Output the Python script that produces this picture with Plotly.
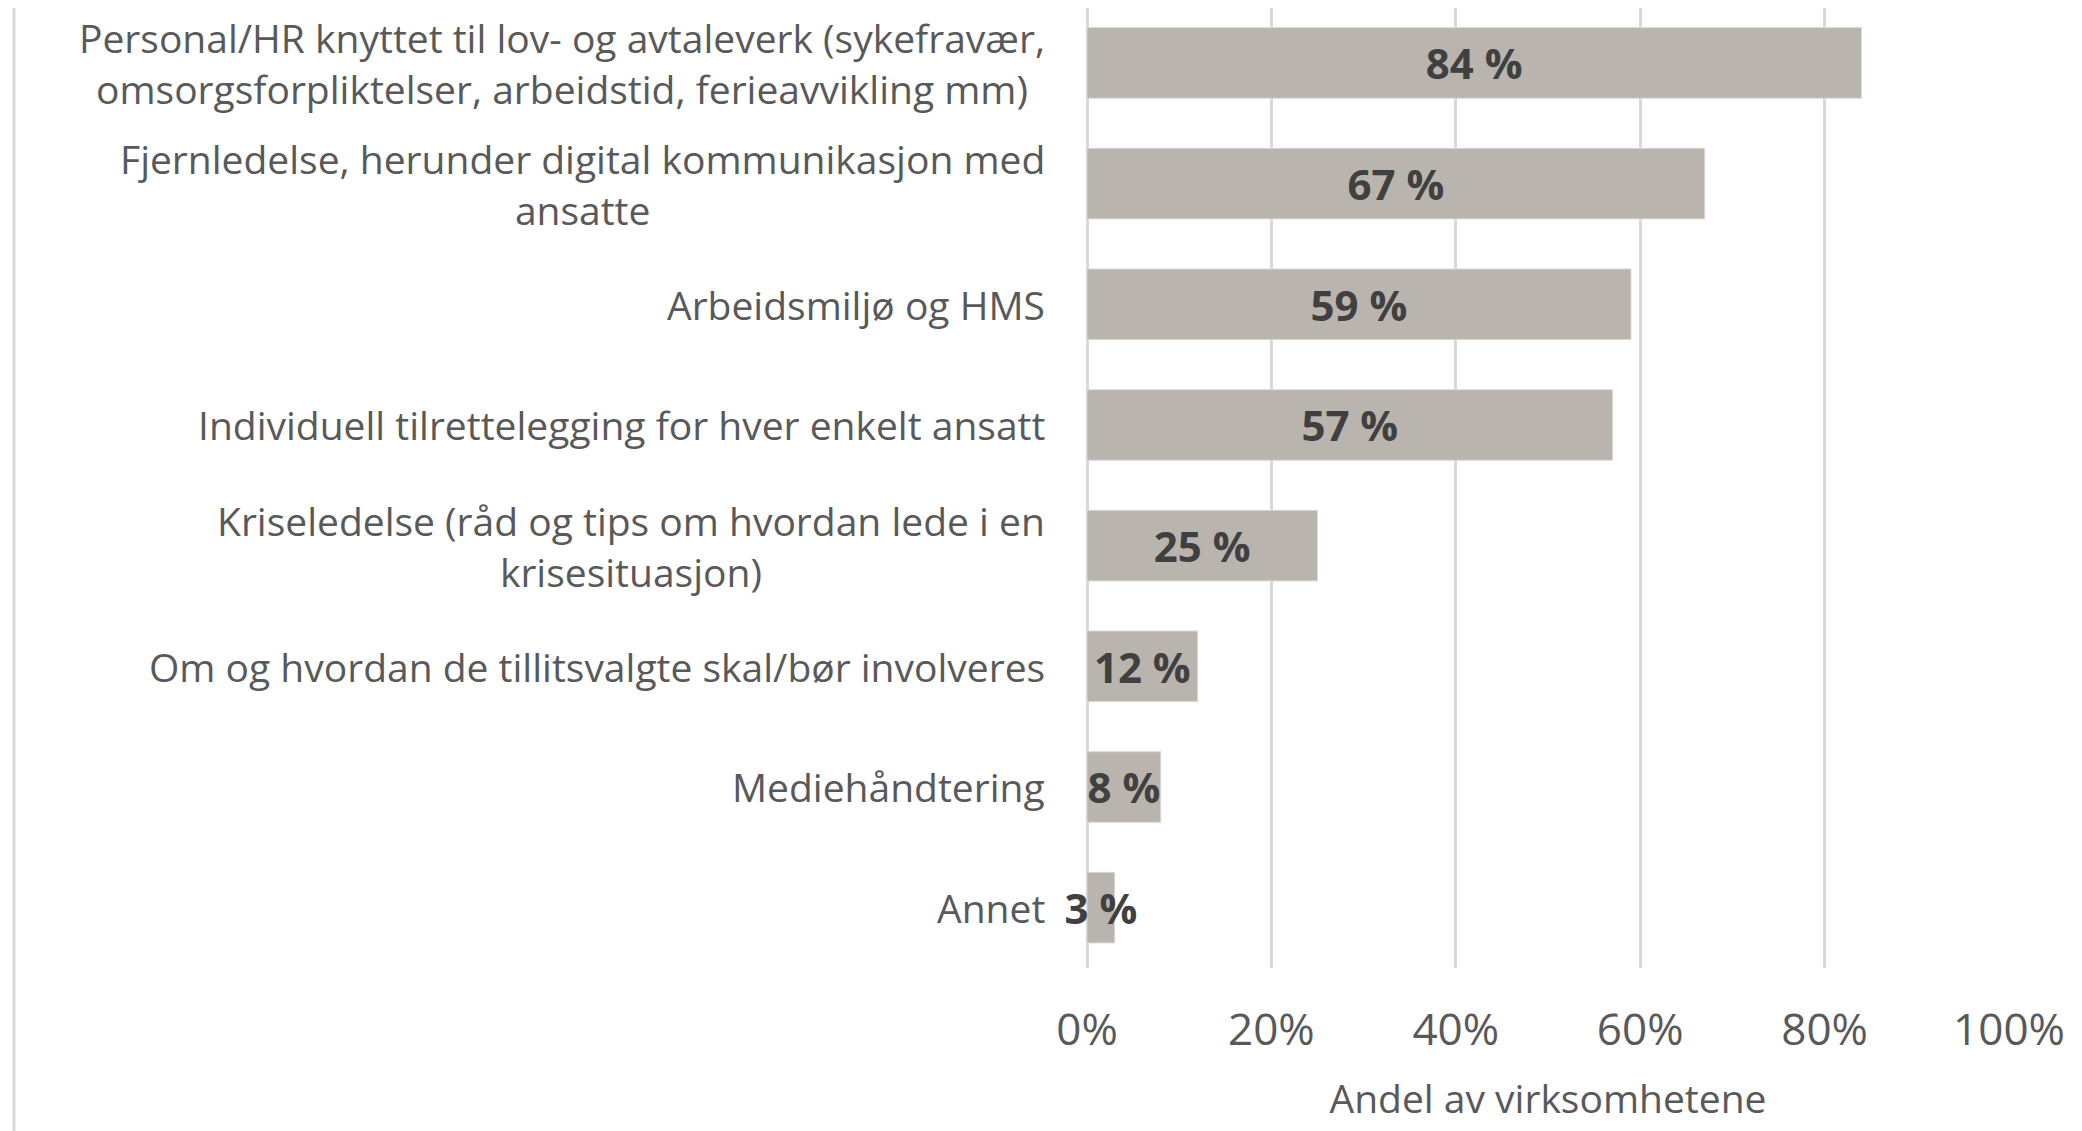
import plotly.graph_objects as go

categories = [
    "Personal/HR knyttet til lov- og avtaleverk (sykefravær,<br>omsorgsforpliktelser, arbeidstid, ferieavvikling mm)",
    "Fjernledelse, herunder digital kommunikasjon med<br>ansatte",
    "Arbeidsmiljø og HMS",
    "Individuell tilrettelegging for hver enkelt ansatt",
    "Kriseledelse (råd og tips om hvordan lede i en<br>krisesituasjon)",
    "Om og hvordan de tillitsvalgte skal/bør involveres",
    "Mediehåndtering",
    "Annet",
]
values = [84, 67, 59, 57, 25, 12, 8, 3]
tick_vals = [0, 20, 40, 60, 80, 100]
tick_text = ["0%", "20%", "40%", "60%", "80%", "100%"]
x_title = "Andel av virksomhetene"

OFF = 8  # default page body margin
W, H = 2082 - OFF, 1131 - OFF
ML, MR, MT = 1087 - OFF, 73, 0
PH = 960
MB = H - MT - PH
PW = W - ML - MR

FONT = "Open Sans, Lato, sans-serif"

fig = go.Figure()
fig.add_trace(go.Bar(
    y=categories, x=values, orientation="h",
    marker=dict(color="#b9b4ae", line=dict(color="#dcd9d5", width=1)),
    texttemplate="%{x:.0f} %", textposition="inside", insidetextanchor="middle",
    textangle=0, constraintext="none", cliponaxis=False,
    textfont=dict(family=FONT, size=42, color="#404040", weight="bold"),
    hoverinfo="skip", showlegend=False,
))

for c in categories:
    fig.add_annotation(
        x=0, xref="paper", y=c, yref="y", text=c, showarrow=False,
        xanchor="right", yanchor="middle", align="center", xshift=-40,
        font=dict(family=FONT, size=39, color="#595959"),
    )

lx = (14 - OFF - ML) / PW
fig.add_shape(type="line", xref="paper", yref="paper",
              x0=lx, x1=lx, y0=-MB / PH, y1=1,
              line=dict(color="#d9d9d9", width=3))

n = len(categories)
fig.update_layout(
    width=W, height=H,
    margin=dict(l=ML, r=MR, t=MT, b=MB, pad=0),
    plot_bgcolor="white", paper_bgcolor="white",
    bargap=0.415,
    font=dict(family=FONT, color="#595959"),
    xaxis=dict(
        range=[0, 100], tickvals=tick_vals, ticktext=tick_text,
        showgrid=True, gridcolor="#d9d9d9", gridwidth=2.5,
        zeroline=True, zerolinecolor="#d9d9d9", zerolinewidth=2.5,
        showline=False, ticks="", ticklabelstandoff=32,
        tickfont=dict(family=FONT, size=44, color="#595959"),
        title=dict(text=x_title, standoff=28,
                   font=dict(family=FONT, size=39, color="#595959")),
    ),
    yaxis=dict(
        range=[n - 0.5, -0.455], showticklabels=False, showgrid=False,
        zeroline=False, showline=False, ticks="",
    ),
)

fig.write_html("out.html")
